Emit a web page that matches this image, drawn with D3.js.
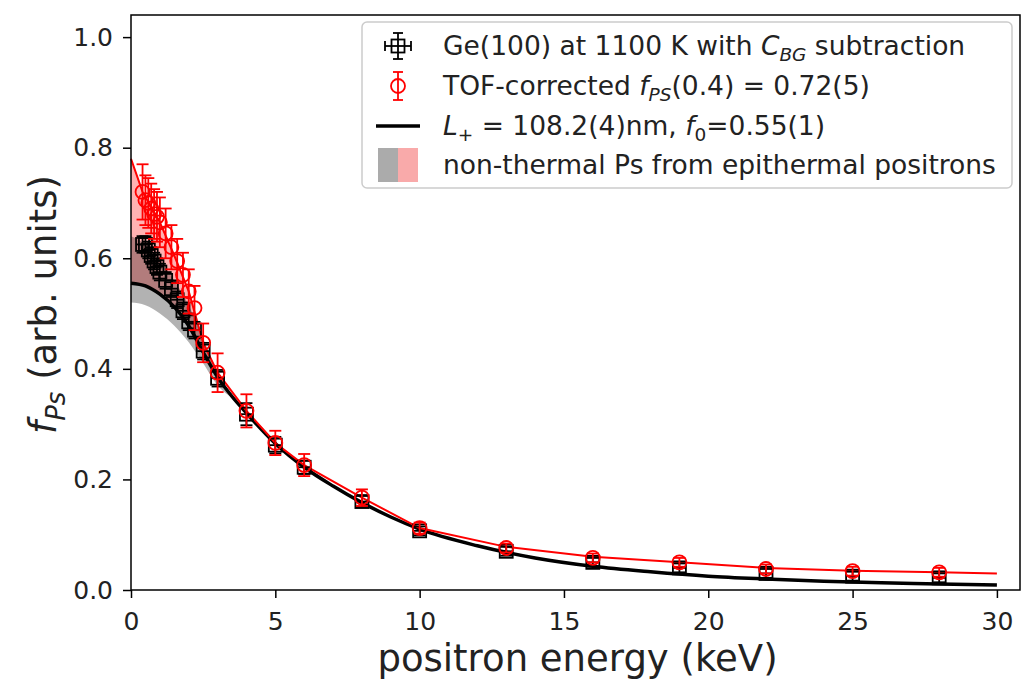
<!DOCTYPE html>
<html>
<head>
<meta charset="utf-8">
<script src="https://cdn.jsdelivr.net/npm/d3@7"></script>
<style>
  body { margin: 0; background: #fff; }
  svg { font-family: "DejaVu Sans", sans-serif; }
</style>
</head>
<body>
<script>
// measured energies (keV)
let energy = [0.4, 0.5, 0.6, 0.7, 0.8, 0.9, 1.0, 1.2, 1.4, 1.6, 1.8, 2.0, 2.2, 2.5, 3, 4, 5, 6, 8, 10, 13, 16, 19, 22, 25, 28];

// Ge(100) at 1100 K, C_BG subtracted
let geVal = [0.625, 0.625, 0.615, 0.605, 0.595, 0.585, 0.575, 0.56, 0.545, 0.525, 0.505, 0.485, 0.47, 0.432, 0.383, 0.318, 0.262, 0.222, 0.16, 0.107, 0.07, 0.05, 0.04, 0.03, 0.025, 0.022];
let geErr = [0.015, 0.015, 0.015, 0.015, 0.015, 0.015, 0.015, 0.015, 0.015, 0.015, 0.015, 0.015, 0.015, 0.015, 0.015, 0.02, 0.015, 0.012, 0.01, 0.008, 0.008, 0.008, 0.008, 0.008, 0.008, 0.008];

// TOF corrected
let tofVal = [0.72, 0.705, 0.70, 0.69, 0.68, 0.675, 0.665, 0.645, 0.62, 0.595, 0.57, 0.54, 0.51, 0.447, 0.393, 0.324, 0.266, 0.226, 0.167, 0.112, 0.076, 0.058, 0.05, 0.038, 0.034, 0.032];
let tofErr = [0.05, 0.045, 0.045, 0.045, 0.045, 0.045, 0.045, 0.045, 0.04, 0.04, 0.04, 0.04, 0.04, 0.035, 0.035, 0.03, 0.022, 0.02, 0.015, 0.01, 0.008, 0.008, 0.008, 0.008, 0.008, 0.008];

// red line
let redLineE = [0, 0.4, 1, 1.5, 2, 2.5, 3, 4, 5, 6, 8, 10, 13, 16, 19, 22, 25, 28, 30];
let redLineV = [0.78, 0.72, 0.665, 0.605, 0.54, 0.447, 0.393, 0.324, 0.266, 0.226, 0.167, 0.112, 0.078, 0.06, 0.05, 0.04, 0.035, 0.032, 0.03];

// black fit, L+ = 108.2 nm
let fitE = [0, 0.5, 1, 1.5, 2, 2.5, 3, 3.5, 4, 5, 6, 7, 8, 9, 10, 12, 14, 16, 18, 20, 22, 24, 26, 28, 30];
let fitV = [0.555, 0.55, 0.535, 0.512, 0.478, 0.43, 0.385, 0.35, 0.32, 0.265, 0.222, 0.188, 0.158, 0.132, 0.11, 0.08, 0.058, 0.043, 0.033, 0.025, 0.02, 0.016, 0.013, 0.011, 0.009];

// non-thermal bands
let grayE = [0, 0.5, 1, 1.5, 2, 2.5, 3, 3.5];
let grayHi = [0.64, 0.625, 0.595, 0.56, 0.515, 0.455, 0.395, 0.352];
let grayLo = [0.52, 0.515, 0.5, 0.478, 0.448, 0.41, 0.37, 0.348];
let pinkE = [0, 0.5, 1, 1.5, 2, 2.5, 3];
let pinkHi = [0.78, 0.71, 0.665, 0.605, 0.54, 0.447, 0.393];
let pinkLo = [0.555, 0.55, 0.535, 0.512, 0.478, 0.43, 0.385];

let xTicks = [0, 5, 10, 15, 20, 25, 30];
let yTicks = [0.0, 0.2, 0.4, 0.6, 0.8, 1.0];

let W = 1024, H = 683;
let mLeft = 131, mRight = 1020, mTop = 15, mBottom = 590;

let svg = d3.select("body").append("svg")
    .attr("width", W)
    .attr("height", H);

let x = d3.scaleLinear().domain([0, 30.8]).range([mLeft, mRight]);
let y = d3.scaleLinear().domain([0, 1.04]).range([mBottom, mTop]);

let plot = svg.append("g");

function band(es, hi, lo, color) {
    let pts = es.map((e, i) => ({ e: e, hi: hi[i], lo: lo[i] }));
    plot.append("path")
        .datum(pts)
        .attr("fill", color)
        .attr("d", d3.area()
            .x(d => x(d.e))
            .y0(d => y(d.lo))
            .y1(d => y(d.hi))
            .curve(d3.curveMonotoneX));
}

band(pinkE, pinkHi, pinkLo, "rgba(255,0,0,0.3)");
band(grayE, grayHi, grayLo, "rgba(0,0,0,0.3)");

// lines
plot.append("path")
    .datum(fitE.map((e, i) => [e, fitV[i]]))
    .attr("fill", "none")
    .attr("stroke", "black")
    .attr("stroke-width", 3.5)
    .attr("d", d3.line().x(d => x(d[0])).y(d => y(d[1])).curve(d3.curveMonotoneX));

plot.append("path")
    .datum(redLineE.map((e, i) => [e, redLineV[i]]))
    .attr("fill", "none")
    .attr("stroke", "red")
    .attr("stroke-width", 2)
    .attr("d", d3.line().x(d => x(d[0])).y(d => y(d[1])));

// error bars + markers
function errorbars(vals, errs, color, xcap) {
    let g = plot.append("g").attr("stroke", color).attr("stroke-width", 1.8).attr("fill", "none");
    energy.forEach((e, i) => {
        let cx = x(e);
        let y1 = y(vals[i] - errs[i]), y2 = y(vals[i] + errs[i]);
        g.append("line").attr("x1", cx).attr("x2", cx).attr("y1", y1).attr("y2", y2);
        g.append("line").attr("x1", cx - 6).attr("x2", cx + 6).attr("y1", y1).attr("y2", y1);
        g.append("line").attr("x1", cx - 6).attr("x2", cx + 6).attr("y1", y2).attr("y2", y2);
        if (xcap) {
            g.append("line").attr("x1", cx - 6).attr("x2", cx + 6).attr("y1", y(vals[i])).attr("y2", y(vals[i]));
        }
    });
}

errorbars(geVal, geErr, "black", true);
plot.append("g").selectAll("rect")
    .data(energy)
    .join("rect")
    .attr("x", (d, i) => x(d) - 6.5)
    .attr("y", (d, i) => y(geVal[i]) - 6.5)
    .attr("width", 13)
    .attr("height", 13)
    .attr("fill", "none")
    .attr("stroke", "black")
    .attr("stroke-width", 1.8);

errorbars(tofVal, tofErr, "red", false);
plot.append("g").selectAll("circle")
    .data(energy)
    .join("circle")
    .attr("cx", d => x(d))
    .attr("cy", (d, i) => y(tofVal[i]))
    .attr("r", 7)
    .attr("fill", "none")
    .attr("stroke", "red")
    .attr("stroke-width", 1.8);

// frame
svg.append("rect")
    .attr("x", mLeft).attr("y", mTop)
    .attr("width", mRight - mLeft).attr("height", mBottom - mTop)
    .attr("fill", "none")
    .attr("stroke", "black")
    .attr("stroke-width", 1.5);

// axes
let xAxis = svg.append("g")
    .attr("transform", `translate(0,${mBottom})`)
    .call(d3.axisBottom(x).tickValues(xTicks).tickSize(8).tickPadding(14).tickFormat(d3.format("d")));
let yAxis = svg.append("g")
    .attr("transform", `translate(${mLeft},0)`)
    .call(d3.axisLeft(y).tickValues(yTicks).tickSize(8).tickPadding(10).tickFormat(d3.format(".1f")));

[xAxis, yAxis].forEach(a => {
    a.select(".domain").remove();
    a.selectAll(".tick line").attr("stroke", "black").attr("stroke-width", 1.5);
    a.selectAll(".tick text")
        .attr("fill", "#222")
        .style("font-family", "DejaVu Sans, sans-serif")
        .style("font-size", "25px");
});

svg.append("text")
    .attr("x", (mLeft + 1020) / 2 + 2)
    .attr("y", 671)
    .attr("text-anchor", "middle")
    .style("font-size", "37px")
    .attr("fill", "#222")
    .text("positron energy (keV)");

let yl = svg.append("text")
    .attr("transform", `translate(56,${(mTop + mBottom) / 2 + 2}) rotate(-90)`)
    .attr("text-anchor", "middle")
    .style("font-size", "37px")
    .attr("fill", "#222");
yl.append("tspan").style("font-style", "italic").text("f");
yl.append("tspan").style("font-style", "italic").style("font-size", "26px").attr("dy", 9).text("Ps");
yl.append("tspan").attr("dy", -9).text(" (arb. units)");

// legend
let lg = svg.append("g");
lg.append("rect")
    .attr("x", 362).attr("y", 22)
    .attr("width", 650).attr("height", 166)
    .attr("rx", 5)
    .attr("fill", "rgba(255,255,255,0.85)")
    .attr("stroke", "#ccc")
    .attr("stroke-width", 1.5);

let rows = [46, 86, 126, 165];
let sx = 398, tx = 443;

// row 1 symbol
let s1 = lg.append("g").attr("stroke", "black").attr("stroke-width", 1.8).attr("fill", "none");
s1.append("rect").attr("x", sx - 6.5).attr("y", rows[0] - 6.5).attr("width", 13).attr("height", 13);
s1.append("line").attr("x1", sx).attr("x2", sx).attr("y1", rows[0] - 13).attr("y2", rows[0] + 13);
s1.append("line").attr("x1", sx - 5).attr("x2", sx + 5).attr("y1", rows[0] - 13).attr("y2", rows[0] - 13);
s1.append("line").attr("x1", sx - 5).attr("x2", sx + 5).attr("y1", rows[0] + 13).attr("y2", rows[0] + 13);
s1.append("line").attr("x1", sx - 13).attr("x2", sx + 13).attr("y1", rows[0]).attr("y2", rows[0]);
s1.append("line").attr("x1", sx - 13).attr("x2", sx - 13).attr("y1", rows[0] - 5).attr("y2", rows[0] + 5);
s1.append("line").attr("x1", sx + 13).attr("x2", sx + 13).attr("y1", rows[0] - 5).attr("y2", rows[0] + 5);

// row 2 symbol
let s2 = lg.append("g").attr("stroke", "red").attr("stroke-width", 1.8).attr("fill", "none");
s2.append("circle").attr("cx", sx).attr("cy", rows[1]).attr("r", 7);
s2.append("line").attr("x1", sx).attr("x2", sx).attr("y1", rows[1] - 14).attr("y2", rows[1] + 14);
s2.append("line").attr("x1", sx - 5).attr("x2", sx + 5).attr("y1", rows[1] - 14).attr("y2", rows[1] - 14);
s2.append("line").attr("x1", sx - 5).attr("x2", sx + 5).attr("y1", rows[1] + 14).attr("y2", rows[1] + 14);

// row 3 symbol
lg.append("line").attr("x1", sx - 22).attr("x2", sx + 22).attr("y1", rows[2]).attr("y2", rows[2])
    .attr("stroke", "black").attr("stroke-width", 3.5);

// row 4 symbol
lg.append("rect").attr("x", sx - 20).attr("y", rows[3] - 17).attr("width", 20).attr("height", 34).attr("fill", "#ababab");
lg.append("rect").attr("x", sx).attr("y", rows[3] - 17).attr("width", 20).attr("height", 34).attr("fill", "#f9aaaa");

function legendText(row, parts) {
    let t = lg.append("text")
        .attr("x", tx).attr("y", rows[row] + 9)
        .style("font-size", "26.5px")
        .attr("fill", "#222");
    parts.forEach(p => {
        let ts = t.append("tspan").text(p.t);
        if (p.i) ts.style("font-style", "italic");
        if (p.sub) ts.style("font-size", "18.5px").attr("dy", 6);
        if (p.up) ts.attr("dy", -6);
    });
}

legendText(0, [{ t: "Ge(100) at 1100 K with " }, { t: "C", i: true }, { t: "BG", i: true, sub: true }, { t: " subtraction", up: true }]);
legendText(1, [{ t: "TOF-corrected " }, { t: "f", i: true }, { t: "PS", i: true, sub: true }, { t: "(0.4) = 0.72(5)", up: true }]);
legendText(2, [{ t: "L", i: true }, { t: "+", sub: true }, { t: " = 108.2(4)nm, ", up: true }, { t: "f", i: true }, { t: "0", sub: true }, { t: "=0.55(1)", up: true }]);
legendText(3, [{ t: "non-thermal Ps from epithermal positrons" }]);
</script>
</body>
</html>
